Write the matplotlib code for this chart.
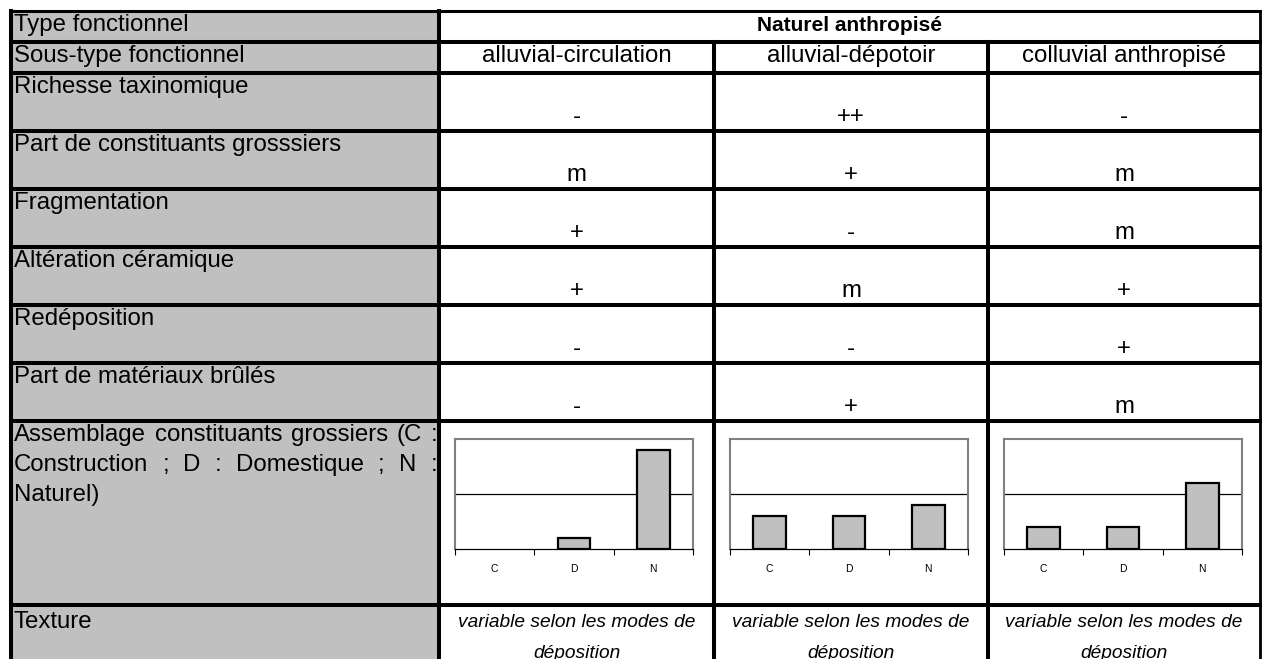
"""
Tableau de synthèse : type fonctionnel « Naturel anthropisé ».
"""
import matplotlib
matplotlib.use("Agg")
import matplotlib.pyplot as plt
from matplotlib.patches import Rectangle

W, H = 1262, 659
GRIS = "#c0c0c0"
CADRE = "#808080"
INK = "#000000"

plt.rcParams.update({
    "font.family": ["Liberation Sans", "DejaVu Sans"],
    "text.color": INK,
})

# --- Données ------------------------------------------------------------------
type_fonctionnel = "Naturel anthropisé"
sous_types = ["alluvial-circulation", "alluvial-dépotoir", "colluvial anthropisé"]

criteres = ["Richesse taxinomique", "Part de constituants grosssiers",
            "Fragmentation", "Altération céramique", "Redéposition",
            "Part de matériaux brûlés"]
val_circulation = ["-", "m", "+", "+", "-", "-"]
val_depotoir = ["++", "+", "-", "m", "-", "+"]
val_colluvial = ["-", "m", "m", "+", "+", "m"]

categories = ["C", "D", "N"]
assemblage_circulation = [0, 10, 90]
assemblage_depotoir = [30, 30, 40]
assemblage_colluvial = [20, 20, 60]

assemblage_lignes = [["Assemblage", "constituants", "grossiers", "(C", ":"],
                     ["Construction", ";", "D", ":", "Domestique", ";", "N", ":"],
                     ["Naturel)"]]
texture = ["variable selon les modes de", "déposition"]

# --- Grille du tableau (pixels) ---------------------------------------------
XS = [11, 439, 714, 988, 1260]
YS = [11, 42, 73, 131, 189, 247, 305, 363, 421, 605, H + 20]
FS = 17.3

fig = plt.figure(figsize=(W / 100, H / 100), dpi=100)
ax = fig.add_axes([0, 0, 1, 1])
ax.set_xlim(0, W)
ax.set_ylim(H, 0)
ax.axis("off")

# colonne des libellés en gris
ax.add_patch(Rectangle((XS[0], YS[0]), XS[1] - XS[0], YS[-1] - YS[0],
                       facecolor=GRIS, edgecolor="none", zorder=0))

BW = 2.9
# lignes horizontales
for y in YS[:-1]:
    lw = 2.2 if y == YS[0] else BW
    ax.plot([XS[0], XS[-1]], [y, y], color=INK, lw=lw,
            solid_capstyle="projecting", zorder=3)
# verticales
ax.plot([XS[0], XS[0]], [YS[0], YS[-1]], color=INK, lw=BW, zorder=3)
ax.plot([XS[1], XS[1]], [YS[0], YS[-1]], color=INK, lw=BW, zorder=3)
for x in XS[2:4]:
    ax.plot([x, x], [YS[1], YS[-1]], color=INK, lw=BW, zorder=3)
ax.plot([XS[-1], XS[-1]], [YS[0], YS[-1]], color=INK, lw=2.0, zorder=3)

# libellés de la première colonne
libelles = ["Type fonctionnel", "Sous-type fonctionnel"] + criteres
for i, lab in enumerate(libelles):
    ax.text(XS[0] + 3, YS[i] + 20, lab, fontsize=FS, ha="left", va="baseline")
ax.text(XS[0] + 3, YS[-2] + 23, "Texture", fontsize=FS, ha="left", va="baseline")

# libellé justifié de l'assemblage
fig.canvas.draw()
rend = fig.canvas.get_renderer()
x0, x1 = XS[0] + 3, XS[1] - 2
for k, mots in enumerate(assemblage_lignes):
    yb = YS[8] + 20 + 30 * k
    arts = [ax.text(0, yb, m, fontsize=FS, ha="left", va="baseline") for m in mots]
    larg = [a.get_window_extent(rend).width for a in arts]
    if len(mots) > 1:
        gap = (x1 - x0 - sum(larg)) / (len(mots) - 1)
    else:
        gap = 0
    x = x0
    for a, w in zip(arts, larg):
        a.set_x(x)
        x += w + gap

# en-têtes
ax.text((XS[1] + XS[-1]) / 2, YS[0] + 20, type_fonctionnel, fontsize=FS - 2.3,
        fontweight="bold", ha="center", va="baseline")
valeurs = [val_circulation, val_depotoir, val_colluvial]
assemblages = [assemblage_circulation, assemblage_depotoir, assemblage_colluvial]
for c in range(3):
    xc = (XS[c + 1] + XS[c + 2]) / 2
    ax.text(xc, YS[1] + 20, sous_types[c], fontsize=FS, ha="center", va="baseline")
    for r, v in enumerate(valeurs[c]):
        ax.text(xc, YS[r + 3] - 8, v, fontsize=FS, ha="center", va="baseline")
    for k, ligne in enumerate(texture):
        ax.text(xc, YS[9] + 22 + 31 * k, ligne, fontsize=FS - 3.5, style="italic",
                ha="center", va="baseline")

    # mini histogramme de l'assemblage
    left = XS[c + 1] + 16
    iax = fig.add_axes([left / W, 1 - 549 / H, 238 / W, 110 / H])
    vals = assemblages[c]
    iax.bar(range(len(categories)), vals, width=0.41, color=GRIS,
            edgecolor=INK, linewidth=[1.6 if v > 0 else 0 for v in vals], zorder=2)
    iax.axhline(50, color=INK, lw=0.9, zorder=1)
    iax.set_ylim(0, 100)
    iax.set_xlim(-0.5, len(categories) - 0.5)
    iax.set_yticks([])
    iax.set_xticks(range(len(categories)))
    iax.set_xticklabels(categories, fontsize=7.5)
    iax.set_xticks([i - 0.5 for i in range(len(categories) + 1)], minor=True)
    iax.tick_params(axis="x", which="major", length=0, pad=10.5)
    iax.tick_params(axis="x", which="minor", length=4.5, width=0.8,
                    direction="out", color=INK)
    for side in ("left", "top", "right"):
        iax.spines[side].set_color(CADRE)
        iax.spines[side].set_linewidth(1.5)
    iax.spines["bottom"].set_color(INK)
    iax.spines["bottom"].set_linewidth(0.9)

fig.savefig("out.png", dpi=100)
